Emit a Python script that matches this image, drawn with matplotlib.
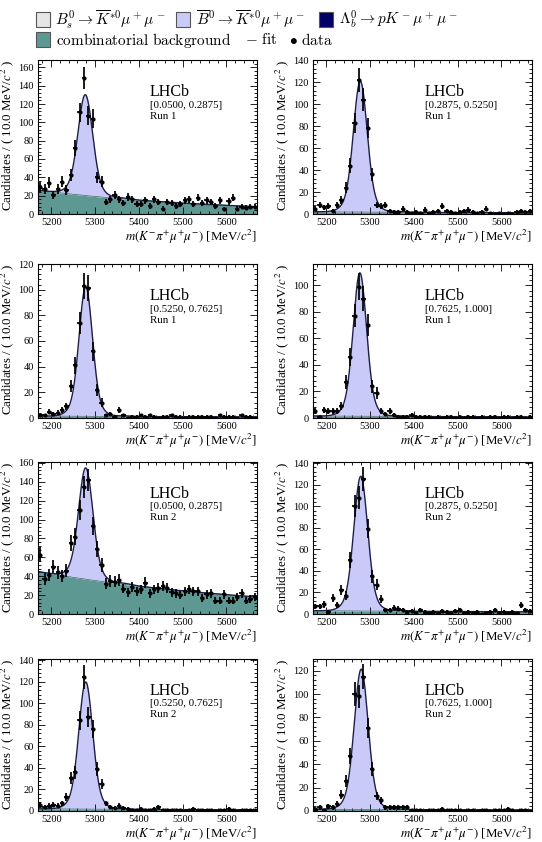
import numpy as np
import matplotlib
matplotlib.use('Agg')
import matplotlib.pyplot as plt
from matplotlib.patches import Rectangle
from matplotlib.ticker import MultipleLocator

plt.rcParams['font.family'] = ['Liberation Serif', 'DejaVu Serif']
plt.rcParams['mathtext.fontset'] = 'stix'

# ---------------- data ----------------
mass_lo, mass_hi, bin_width = 5170, 5670, 10
bin_centers = np.arange(mass_lo + bin_width / 2, mass_hi, bin_width)

q2_labels = ['[0.0500, 0.2875]', '[0.2875, 0.5250]', '[0.5250, 0.7625]', '[0.7625, 1.000]']
run_labels = ['Run 1', 'Run 2']

counts_run1_bin1 = [29, 27, 34, 21, 27, 35, 26, 43, 72, 111, 148, 107, 104, 40, 35, 13, 16, 21, 16, 12,
                    19, 16, 11, 11, 15, 9, 16, 13, 6, 13, 12, 9, 11, 15, 16, 11, 18, 12, 15, 13,
                    9, 15, 5, 14, 18, 6, 8, 7, 8, 8]
counts_run1_bin2 = [5, 8, 6, 7, 3, 8, 13, 24, 44, 83, 122, 104, 78, 36, 8, 7, 8, 3, 2, 2,
                    5, 2, 1, 2, 1, 4, 1, 2, 3, 7, 3, 2, 1, 2, 3, 4, 2, 1, 2, 5,
                    1, 0, 1, 0, 1, 0, 2, 3, 2, 3]
counts_run1_bin3 = [2, 2, 5, 3, 4, 6, 9, 25, 41, 74, 103, 101, 52, 22, 12, 2, 3, 1, 6, 2,
                    0, 1, 1, 2, 1, 2, 1, 0, 1, 1, 2, 1, 1, 0, 1, 1, 1, 1, 1, 1,
                    0, 2, 1, 1, 1, 0, 2, 1, 1, 0]
counts_run1_bin4 = [5, 1, 6, 5, 5, 5, 9, 27, 46, 77, 99, 90, 70, 24, 19, 5, 3, 5, 2, 1,
                    1, 1, 2, 1, 1, 1, 1, 0, 1, 0, 1, 1, 0, 1, 0, 1, 1, 0, 1, 0,
                    1, 1, 0, 1, 1, 0, 1, 1, 0, 1]
counts_run2_bin1 = [63, 37, 41, 50, 44, 40, 46, 75, 82, 110, 135, 142, 93, 69, 52, 32, 35, 34, 36, 27,
                    23, 29, 24, 26, 33, 22, 26, 28, 30, 28, 23, 22, 20, 24, 26, 24, 24, 17, 21, 22,
                    14, 14, 21, 14, 14, 18, 22, 14, 16, 18]
counts_run2_bin2 = [7, 7, 9, 2, 15, 8, 22, 17, 50, 100, 108, 125, 79, 35, 27, 14, 4, 4, 6, 5,
                    4, 2, 3, 1, 4, 2, 1, 2, 1, 3, 2, 1, 3, 4, 1, 2, 1, 2, 0, 1,
                    2, 4, 1, 2, 1, 2, 1, 8, 4, 3]
counts_run2_bin3 = [6, 4, 5, 6, 5, 7, 13, 31, 36, 84, 124, 87, 76, 39, 25, 7, 4, 3, 5, 3,
                    2, 1, 1, 2, 1, 1, 2, 4, 1, 1, 1, 1, 1, 0, 1, 2, 1, 1, 1, 1,
                    0, 1, 1, 2, 1, 0, 1, 1, 1, 1]
counts_run2_bin4 = [2, 3, 1, 4, 3, 6, 14, 26, 47, 100, 98, 115, 71, 36, 13, 9, 3, 3, 3, 3,
                    3, 3, 1, 1, 1, 0, 1, 1, 1, 2, 1, 1, 1, 1, 0, 1, 1, 0, 1, 1,
                    0, 1, 1, 1, 2, 1, 0, 1, 1, 0]

panel_counts = [counts_run1_bin1, counts_run1_bin2, counts_run1_bin3, counts_run1_bin4,
                counts_run2_bin1, counts_run2_bin2, counts_run2_bin3, counts_run2_bin4]

# fit results per panel (same order)
sig_mean  = [5278, 5278, 5279, 5277, 5279, 5279, 5279, 5280]
sig_sigma = [16.0, 15.0, 14.5, 14.5, 15.5, 15.0, 15.0, 15.0]
sig_peak  = [110, 119, 101, 108, 118, 125, 118, 120]
bkg_start = [26, 2.0, 1.5, 1.5, 45, 3.0, 2.0, 1.5]
bkg_end   = [8, 1.0, 0.8, 0.8, 18, 2.0, 1.0, 0.8]
bs_peak   = [1.0, 0.6, 0.5, 0.5, 1.2, 0.8, 0.5, 0.5]
bs_mean = 5367
tail_frac, tail_scale = 0.15, 1.8

y_max = [168, 140, 120, 116, 161, 141, 141, 130]

# ---------------- style ----------------
teal = '#5E9893'
lavender = '#CACAF8'
gray = '#E6E6E6'
navy = '#000066'
line_color = '#1E1E4A'

W, H = 542, 842
fig = plt.figure(figsize=(W / 100, H / 100), dpi=100)

col_left = [38, 313]
col_width = 219
rows = [(60, 214), (264, 418), (462, 614), (659, 811)]

m = np.linspace(mass_lo, mass_hi, 1001)
for k in range(8):
    r, c = divmod(k, 2)
    top, bot = rows[r]
    ax = fig.add_axes([col_left[c] / W, 1 - bot / H, col_width / W, (bot - top) / H])
    bkg = bkg_start[k] * (bkg_end[k] / bkg_start[k]) ** ((m - mass_lo) / (mass_hi - mass_lo))
    d = m - sig_mean[k]
    shape = (1 - tail_frac) * np.exp(-0.5 * (d / sig_sigma[k]) ** 2) + \
        tail_frac * np.exp(-0.5 * (d / (tail_scale * sig_sigma[k])) ** 2)
    sig = sig_peak[k] * shape
    bs = bs_peak[k] * np.exp(-0.5 * ((m - bs_mean) / sig_sigma[k]) ** 2)
    ax.fill_between(m, 0, bkg, color=teal, lw=0)
    ax.fill_between(m, bkg, bkg + bs, color=gray, lw=0)
    ax.fill_between(m, bkg + bs, bkg + bs + sig, color=lavender, lw=0)
    ax.plot(m, bkg, color='#3c6e6a', lw=0.5)
    ax.plot(m, bkg + bs + sig, color=line_color, lw=1.0)

    y = np.array(panel_counts[k], dtype=float)
    ax.errorbar(bin_centers, y, yerr=np.sqrt(y), xerr=bin_width / 2, fmt='o', ms=2.0,
                color='k', ecolor='k', elinewidth=1.25, capsize=0, zorder=5)

    ax.set_xlim(mass_lo, mass_hi)
    ax.set_ylim(0, y_max[k])
    ax.xaxis.set_major_locator(MultipleLocator(100))
    ax.xaxis.set_minor_locator(MultipleLocator(20))
    ax.yaxis.set_major_locator(MultipleLocator(20))
    ax.yaxis.set_minor_locator(MultipleLocator(4))
    ax.tick_params(which='both', direction='in', top=True, right=True, labelsize=7.5, width=0.6)
    ax.tick_params(which='major', length=5, pad=3)
    ax.tick_params(which='minor', length=2.5)
    for s in ax.spines.values():
        s.set_linewidth(0.8)

    ax.set_xlabel(r'$m(K^{-}\pi^{+}\mu^{+}\mu^{-})$ [MeV/$c^{2}$]', fontsize=9.3, loc='right')
    ax.xaxis.set_label_coords(1.0, -0.09)
    ax.set_ylabel(r'Candidates / ( 10.0 MeV/$c^{2}$ )', fontsize=9.3, loc='top')
    ax.yaxis.set_label_coords(-0.10, 1.0)

    q = (r % 2) * 2 + c
    ax.text(0.51, 0.765, 'LHCb', transform=ax.transAxes, fontsize=11.5, va='baseline')
    ax.text(0.51, 0.69, q2_labels[q], transform=ax.transAxes, fontsize=7.8, va='baseline')
    ax.text(0.51, 0.62, run_labels[r // 2], transform=ax.transAxes, fontsize=7.8, va='baseline')

# ---------------- legend ----------------
def box(x, ytop, color):
    fig.add_artist(Rectangle((x / W, 1 - (ytop + 15) / H), 14 / W, 15 / H, transform=fig.transFigure,
                             facecolor=color, edgecolor='#555555', lw=0.8))

def ltext(x, yc, s):
    fig.text(x / W, 1 - yc / H, s, fontsize=11, va='center', ha='left', math_fontfamily='cm')

box(36, 12, gray)
ltext(55, 19.5, r'$B^0_s \rightarrow \overline{K}^{*0}\mu^+\mu^-$')
box(176, 12, lavender)
ltext(196, 19.5, r'$\overline{B}^0 \rightarrow \overline{K}^{*0}\mu^+\mu^-$')
box(319, 12, navy)
ltext(339, 19.5, r'$\Lambda^0_b \rightarrow pK^-\mu^+\mu^-$')
box(36, 32, teal)
ltext(56, 40, r'$\mathrm{combinatorial\ background}$')
ltext(245, 40, r'$-\ \mathrm{fit}$')
ltext(289, 40, r'$\bullet\ \mathrm{data}$')

fig.savefig('out.png', dpi=100)
